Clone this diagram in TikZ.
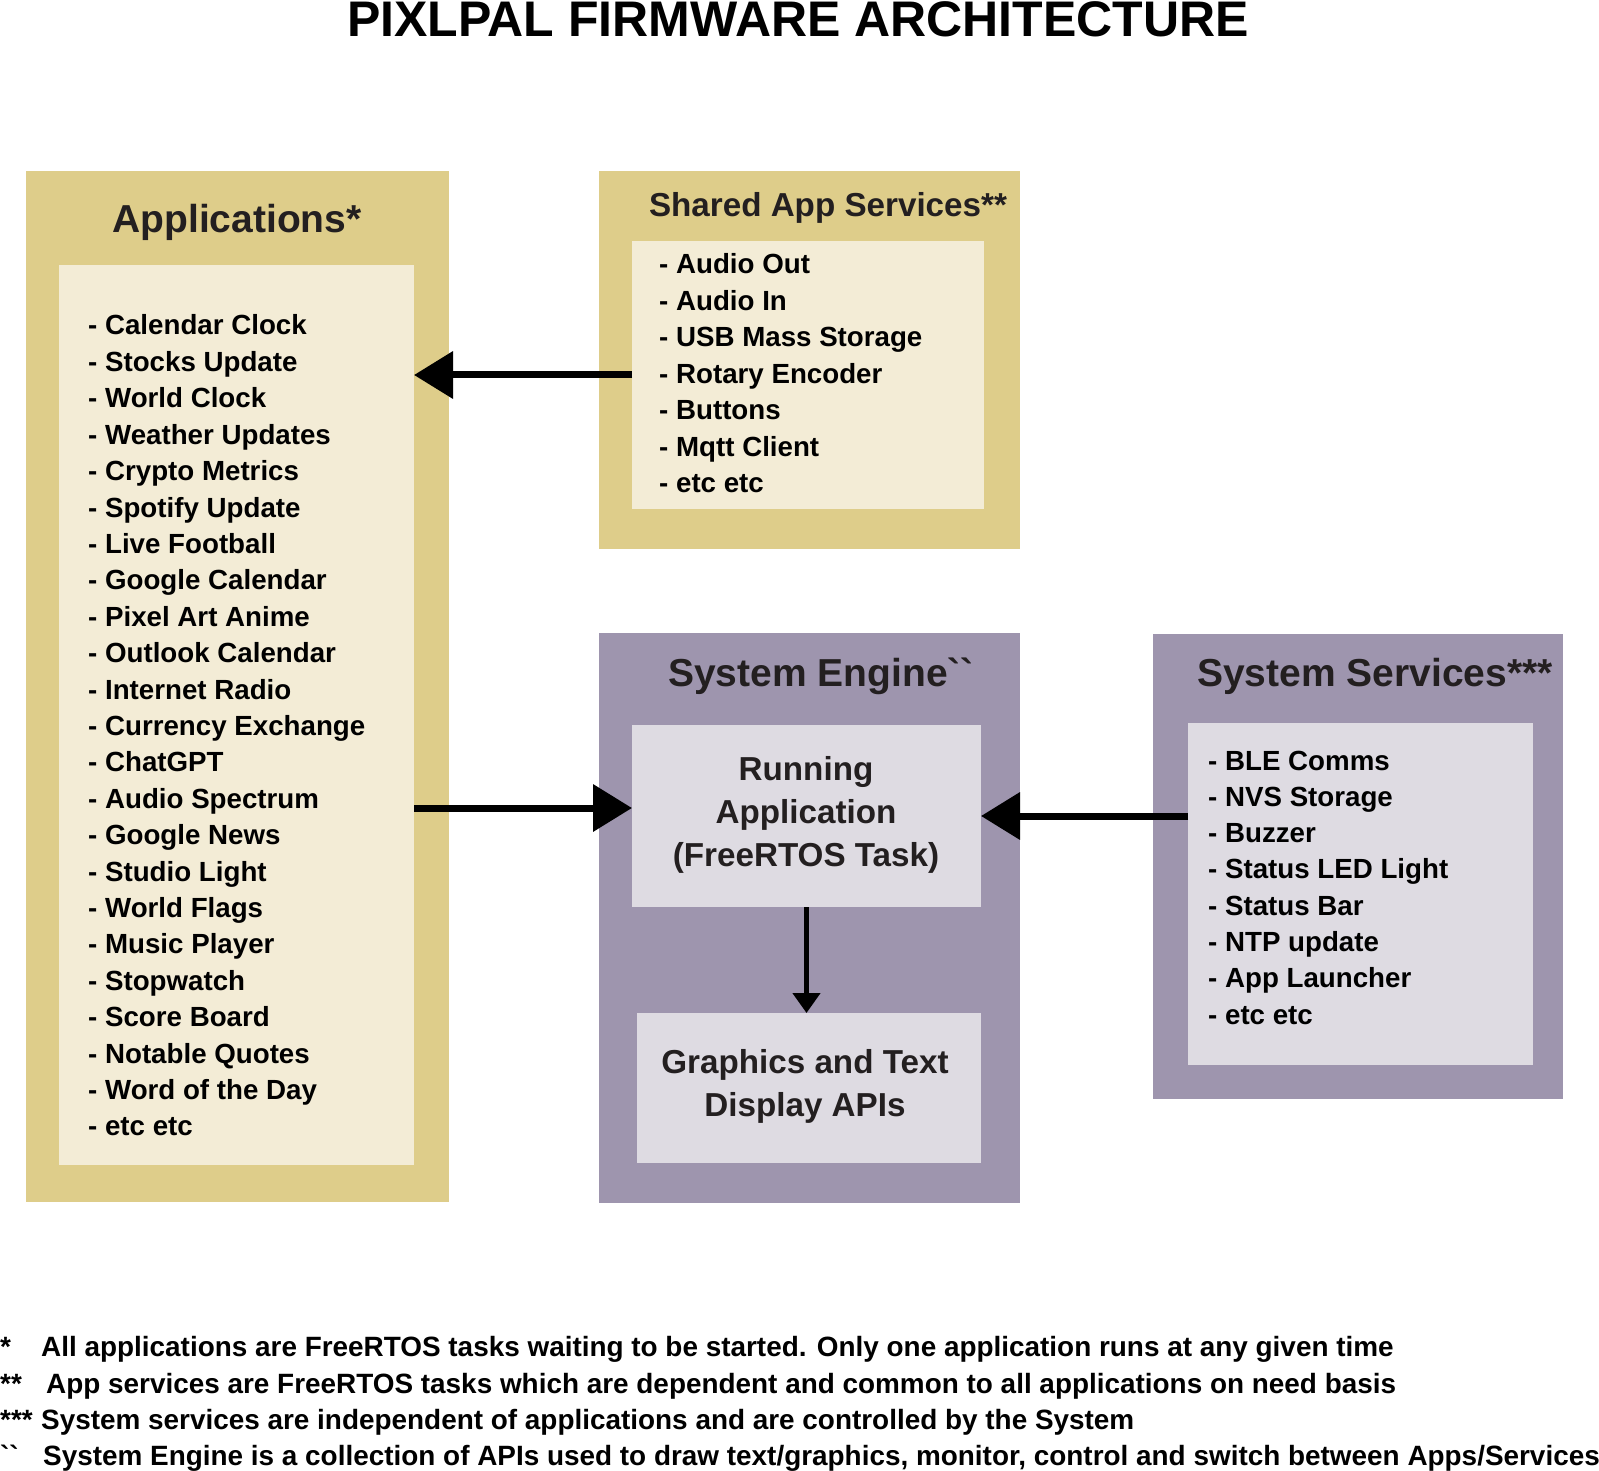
\documentclass[tikz,border=0pt]{standalone}
\usepackage{fontspec}
\setmainfont{Liberation Sans}[Ligatures=TeXOff]
\usetikzlibrary{arrows.meta}

\definecolor{goldout}{RGB}{222,205,138}
\definecolor{goldin}{RGB}{243,236,214}
\definecolor{lilacout}{RGB}{158,149,174}
\definecolor{lilacin}{RGB}{222,219,226}
\definecolor{darktxt}{RGB}{35,31,32}

\tikzset{
  boxnode/.style={inner sep=0pt, outer sep=0pt},
  listtxt/.style={anchor=base west, inner sep=0pt, font=\fontsize{27.7}{33}\selectfont\bfseries},
  headtxt/.style={anchor=base, inner sep=0pt, text=darktxt, font=\fontsize{39}{46}\selectfont\bfseries},
  subtxt/.style={anchor=base, inner sep=0pt, text=darktxt, font=\fontsize{33.2}{40}\selectfont\bfseries},
  notetxt/.style={anchor=base west, inner sep=0pt, font=\fontsize{27.9}{33}\selectfont\bfseries},
  bigarrow/.style={line width=7pt, -{Triangle[length=39pt 0 0, width=46pt 0 0]}},
  smallarrow/.style={line width=4.7pt, -{Triangle[length=20pt 0 0, width=27pt 0 0]}}
}

\begin{document}
\begin{tikzpicture}[x=1pt,y=-1pt]
\useasboundingbox (0,0) rectangle (1599,1471);

% Titre
\node[anchor=base, inner sep=0pt, font=\fontsize{50}{60}\selectfont\bfseries] (title) at (798,37) {PIXLPAL FIRMWARE ARCHITECTURE};

% Applications
\node[boxnode, fill=goldout, minimum width=423.5, minimum height=1031] (appsout) at (237.25,686.5) {};
\node[boxnode, fill=goldin, minimum width=355, minimum height=900] (appsin) at (236.5,715) {};
\node[headtxt] (appshead) at (237,233) {Applications*};
\foreach \app [count=\i] in {Calendar Clock, Stocks Update, World Clock, Weather Updates,
    Crypto Metrics, Spotify Update, Live Football, Google Calendar, Pixel Art Anime,
    Outlook Calendar, Internet Radio, Currency Exchange, ChatGPT, Audio Spectrum,
    Google News, Studio Light, World Flags, Music Player, Stopwatch, Score Board,
    Notable Quotes, Word of the Day, etc etc} {
    \node[listtxt] (app\i) at (88,{335+36.4*(\i-1)}) {- \app};
}

% Shared App Services
\node[boxnode, fill=goldout, minimum width=421, minimum height=378] (sharedout) at (809.5,360) {};
\node[boxnode, fill=goldin, minimum width=352, minimum height=268] (sharedin) at (808,375) {};
\node[subtxt] (sharedhead) at (828,217) {Shared App Services**};
\foreach \srv [count=\i] in {Audio Out, Audio In, USB Mass Storage, Rotary Encoder,
    Buttons, Mqtt Client, etc etc} {
    \node[listtxt] (shared\i) at (659,{274+36.4*(\i-1)}) {- \srv};
}

% System Engine
\node[boxnode, fill=lilacout, minimum width=421, minimum height=570] (engineout) at (809.5,918) {};
\node[headtxt] (enginehead) at (821,686) {System Engine``};
\node[boxnode, fill=lilacin, minimum width=349, minimum height=182] (running) at (806.5,816) {};
\node[subtxt] at (806,780) {Running};
\node[subtxt] at (806,823) {Application};
\node[subtxt] at (806,866) {(FreeRTOS Task)};
\node[boxnode, fill=lilacin, minimum width=344, minimum height=150] (gfx) at (809,1088) {};
\node[subtxt] at (805,1073) {Graphics and Text};
\node[subtxt] at (805,1116) {Display APIs};

% System Services
\node[boxnode, fill=lilacout, minimum width=410, minimum height=465] (sysout) at (1358,866.5) {};
\node[boxnode, fill=lilacin, minimum width=345, minimum height=342] (sysin) at (1360.5,894) {};
\node[headtxt] (syshead) at (1375,686) {System Services***};
\foreach \srv [count=\i] in {BLE Comms, NVS Storage, Buzzer, Status LED Light,
    Status Bar, NTP update, App Launcher, etc etc} {
    \node[listtxt] (sys\i) at (1208,{770+36.3*(\i-1)}) {- \srv};
}

% Connexions
\coordinate (runin) at ([yshift=8pt]running.west);
\draw[bigarrow] (sharedin.west) -- (sharedin.west -| appsin.east);
\draw[bigarrow] (appsin.east |- runin) -- (runin);
\draw[bigarrow] (sysin.west |- running.east) -- (running.east);
\draw[smallarrow] (running.south) -- (running.south |- gfx.north);

% Notes
\node[notetxt] (n1) at (0,1356) {*};
\node[notetxt] (t1) at (41,1356) {All applications are FreeRTOS tasks waiting to be started. Only one application runs at any given time};
\node[notetxt] (n2) at (0,1393) {**};
\node[notetxt] (t2) at (46,1393) {App services are FreeRTOS tasks which are dependent and common to all applications on need basis};
\node[notetxt] (n3) at (0,1429) {***};
\node[notetxt] (t3) at (41,1429) {System services are independent of applications and are controlled by the System};
\node[notetxt] (n4) at (0,1465) {``};
\node[notetxt] (t4) at (43,1465) {System Engine is a collection of APIs used to draw text/graphics, monitor, control and switch between Apps/Services};

\end{tikzpicture}
\end{document}
